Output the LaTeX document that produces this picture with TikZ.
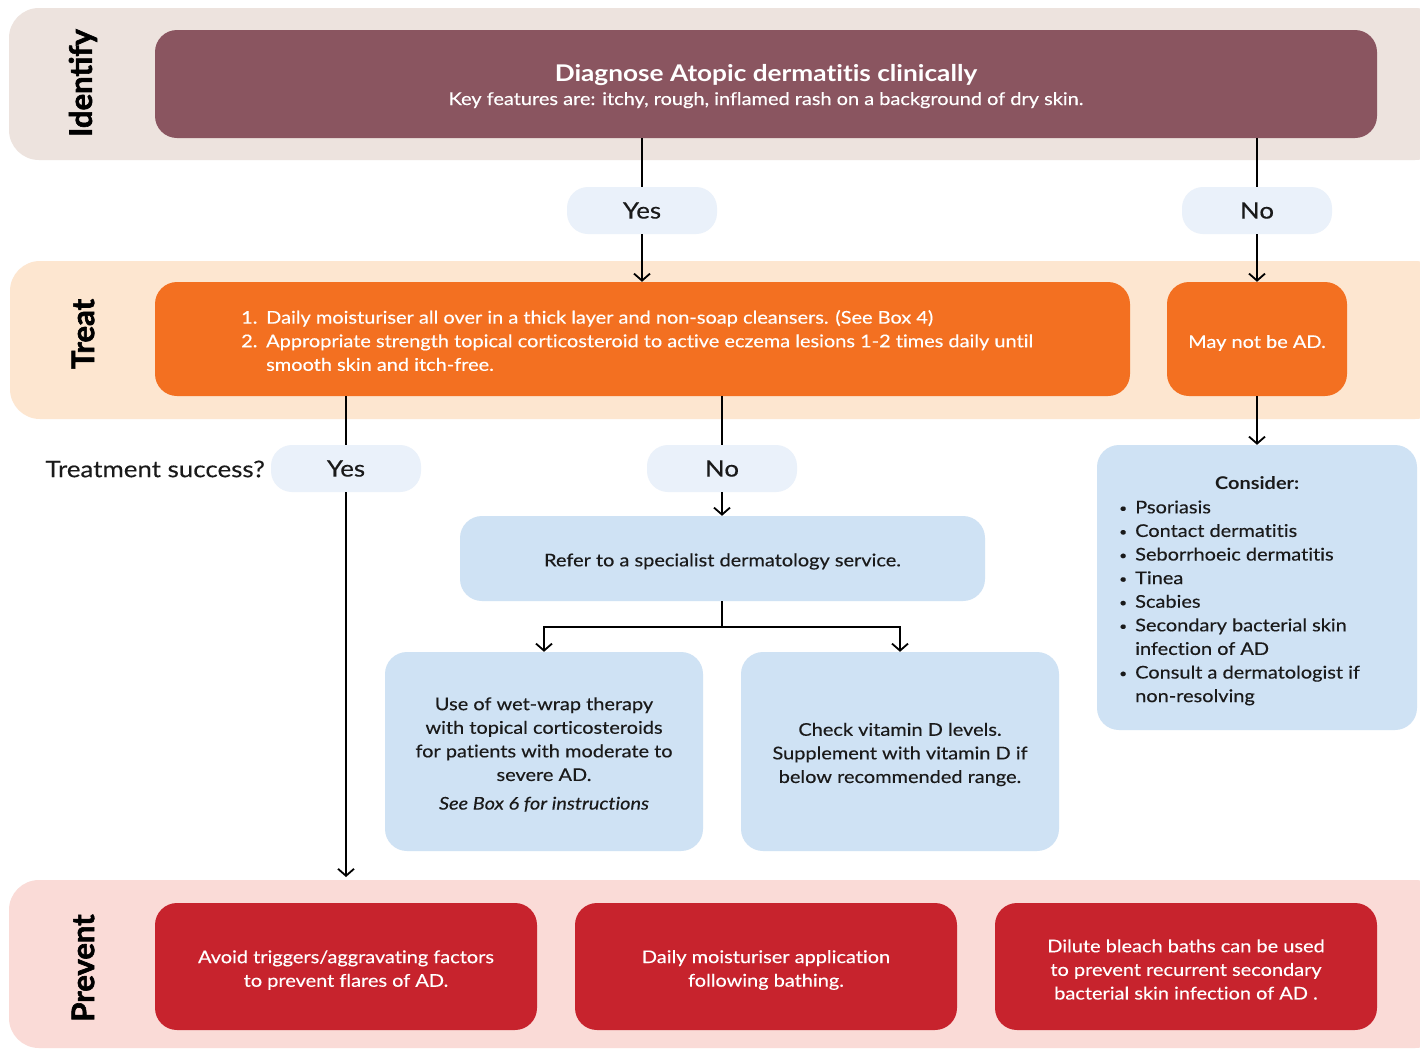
\documentclass[tikz,border=0pt]{standalone}
\usepackage{fontspec}
\setmainfont{Lato}[Ligatures=NoCommon,FakeStretch=1.14,UprightFeatures={FakeBold=0.3},ItalicFeatures={FakeBold=0.3}]
\newfontfamily\heavyfont{Lato}[BoldFeatures={FakeBold=2}]
\usetikzlibrary{arrows.meta,calc}
\definecolor{idband}{HTML}{EDE3DE}
\definecolor{idfill}{HTML}{8A5560}
\definecolor{trband}{HTML}{FDE6D0}
\definecolor{orangefill}{HTML}{F37021}
\definecolor{pillfill}{HTML}{EAF1FA}
\definecolor{bluefill}{HTML}{CFE2F4}
\definecolor{pvband}{HTML}{FADBD7}
\definecolor{redfill}{HTML}{C7232D}
\definecolor{ink}{HTML}{1A1A1A}
\newcommand\bodyfont{\fontsize{17.5}{23.6}\selectfont}
\newcommand\bul{\makebox[16pt][l]{\raisebox{1pt}{\fontsize{12}{12}\selectfont\textbullet}}}
\begin{document}
\begin{tikzpicture}[x=1pt,y=-1pt,
  band/.style={fill=#1,draw=none,rounded corners=30pt},
  sbox/.style={fill=#1,draw=none,rounded corners=22pt,inner sep=0pt},
  txt/.style={align=center,inner sep=0pt,font=\bodyfont,text=#1},
  pillbox/.style={fill=pillfill,draw=none,rounded corners=21pt,minimum width=150pt,minimum height=47pt,inner sep=0pt,font=\fontsize{22.7}{28}\selectfont,text=ink},
  bandlabel/.style={rotate=90,font=\heavyfont\bfseries\fontsize{31}{31}\selectfont,text=black},
  conn/.style={draw=black,line width=1.8pt},
  arr/.style={conn,-{Straight Barb[length=7pt,width=16pt]}}
]
\useasboundingbox (0,0) rectangle (1420,1050);
\clip (0,0) rectangle (1420,1050);
\fill[white] (0,0) rectangle (1420,1050);
% bands
\path[band=idband] (9,8) rectangle (1445,160);
\path[band=trband] (10,261) rectangle (1445,419);
\path[band=pvband] (9,880) rectangle (1445,1048);
\node[bandlabel] (lid) at (83,83) {Identify};
\node[bandlabel] (ltr) at (83,334) {Treat};
\node[bandlabel] (lpv) at (83,968) {Prevent};
% identify box
\node[sbox=idfill,minimum width=1222pt,minimum height=108pt] (idb) at (766,84) {};
\node[anchor=base,text=white,font=\bfseries\fontsize{23}{28}\selectfont,inner sep=0pt] (idt) at (766,81.5) {Diagnose Atopic dermatitis clinically};
\node[anchor=base,text=white,font=\fontsize{17.5}{21}\selectfont,inner sep=0pt] (ids) at (766,105) {Key features are: itchy, rough, inflamed rash on a background of dry skin.};
% pills
\node[pillbox] (yes1) at (642,210.5) {Yes};
\node[pillbox] (no1) at (1257,210.5) {No};
\node[pillbox] (yes2) at (346,468.5) {Yes};
\node[pillbox] (no2) at (722,468.5) {No};
\node[anchor=east,text=ink,font=\fontsize{22.7}{28}\selectfont,inner sep=0pt] (tsq) at (265,469) {Treatment success?};
% treat
\node[sbox=orangefill,minimum width=975pt,minimum height=114pt] (treat) at (642.5,339) {};
\node[anchor=west,align=left,text=white,font=\bodyfont,inner sep=0pt] (treattxt) at (241,340.5)
  {\makebox[25pt][l]{1.}Daily moisturiser all over in a thick layer and non-soap cleansers. (See Box 4)\\
   \makebox[25pt][l]{2.}Appropriate strength topical corticosteroid to active eczema lesions 1-2 times daily until\\
   \hspace*{25pt}smooth skin and itch-free.};
\node[sbox=orangefill,minimum width=180pt,minimum height=114pt] (maybe) at (1257,339) {};
\node[txt=white] (maybetxt) at (1257,343) {May not be AD.};
% consider
\node[sbox=bluefill,minimum width=320pt,minimum height=285pt] (cons) at (1257,587.5) {};
\node[anchor=west,align=left,text=ink,font=\bodyfont,inner sep=0pt] (constxt) at (1119,591)
  {\makebox[276pt]{\bfseries Consider:}\\
   \bul Psoriasis\\
   \bul Contact dermatitis\\
   \bul Seborrhoeic dermatitis\\
   \bul Tinea\\
   \bul Scabies\\
   \bul Secondary bacterial skin\\
   \hspace*{16pt}infection of AD\\
   \bul Consult a dermatologist if\\
   \hspace*{16pt}non-resolving};
% refer and sub boxes
\node[sbox=bluefill,minimum width=525pt,minimum height=85pt] (refer) at (722.5,558.5) {};
\node[txt=ink] (refertxt) at (722.5,561.5) {Refer to a specialist dermatology service.};
\node[sbox=bluefill,minimum width=318pt,minimum height=199pt] (wet) at (544,751.5) {};
\node[txt=ink] (wettxt) at (544,754.5)
  {Use of wet-wrap therapy\\ with topical corticosteroids\\ for patients with moderate to\\ severe AD.\\[5pt] \itshape See Box 6 for instructions};
\node[sbox=bluefill,minimum width=318pt,minimum height=199pt] (vit) at (900,751.5) {};
\node[txt=ink] (vittxt) at (900,754.5)
  {Check vitamin D levels.\\ Supplement with vitamin D if\\ below recommended range.};
% prevent
\node[sbox=redfill,minimum width=382pt,minimum height=127pt] (pv1) at (346,966.5) {};
\node[txt=white] (pv1txt) at (346,970)
  {Avoid triggers/aggravating factors\\ to prevent flares of AD.};
\node[sbox=redfill,minimum width=382pt,minimum height=127pt] (pv2) at (766,966.5) {};
\node[txt=white] (pv2txt) at (766,970)
  {Daily moisturiser application\\ following bathing.};
\node[sbox=redfill,minimum width=382pt,minimum height=127pt] (pv3) at (1186,966.5) {};
\node[txt=white] (pv3txt) at (1186,969.5)
  {Dilute bleach baths can be used\\ to prevent recurrent secondary\\ bacterial skin infection of AD .};
% connectors
\draw[conn] (idb.south -| yes1) -- (yes1.north);
\draw[arr] (yes1.south) -- (yes1.south |- treat.north);
\draw[conn] (idb.south -| no1) -- (no1.north);
\draw[arr] (no1.south) -- (maybe.north);
\draw[conn] (treat.south -| yes2) -- (yes2.north);
\coordinate (pvtop) at (346,877);
\draw[arr] (yes2.south) -- (pvtop);
\draw[conn] (treat.south -| no2) -- (no2.north);
\draw[arr] (no2.south) -- (no2.south |- refer.north);
\draw[arr] (maybe.south) -- (cons.north -| maybe.south);
\coordinate (split) at (722,627);
\draw[conn] (refer.south -| split) -- (split);
\draw[arr] (split) -| (wet.north);
\draw[arr] (split) -| (vit.north);
\end{tikzpicture}
\end{document}
